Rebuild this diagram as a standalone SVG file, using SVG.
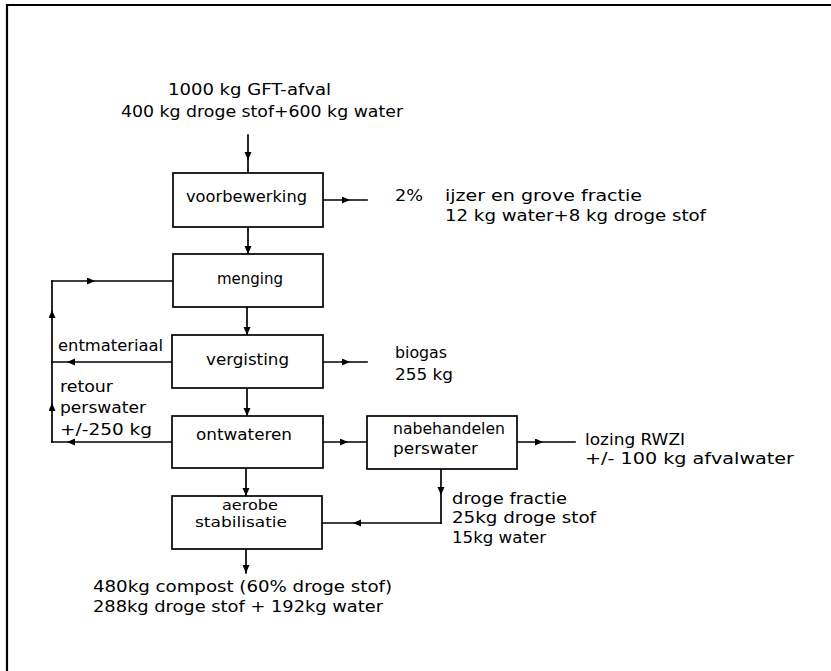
<svg xmlns="http://www.w3.org/2000/svg" width="831" height="671" viewBox="0 0 831 671">
<style>
text{font-family:"DejaVu Sans Condensed","DejaVu Sans",sans-serif;font-size:16px;fill:#000}
.sm{font-size:14.5px}
.box{fill:#fff;stroke:#000;stroke-width:1.7}
.ln{fill:none;stroke:#000;stroke-width:1.7;stroke-linecap:square}
.frame{fill:none;stroke:#000;stroke-width:2.2}
</style>
<defs>
<marker id="ah" markerUnits="userSpaceOnUse" markerWidth="10" markerHeight="8" refX="8" refY="3.5" orient="auto" viewBox="0 0 10 8">
<path d="M0,0 L8,3.5 L0,7 z" fill="#000"/>
</marker>
</defs>
<path class="frame" d="M6,5 H831 M7,4 V671"/>
<g id="connectors">
<path class="ln" d="M248,135 L248,160 L248,173" marker-mid="url(#ah)"/>
<path class="ln" d="M323,200 L350,200 L367,200" marker-mid="url(#ah)"/>
<path class="ln" d="M248,227 L248,254" marker-end="url(#ah)"/>
<path class="ln" d="M247,307 L247,335" marker-end="url(#ah)"/>
<path class="ln" d="M247,388 L247,416" marker-end="url(#ah)"/>
<path class="ln" d="M246,468 L246,496" marker-end="url(#ah)"/>
<path class="ln" d="M246,549 L246,573" marker-end="url(#ah)"/>
<path class="ln" d="M172,442 L67,442 L52,442" marker-mid="url(#ah)"/>
<path class="ln" d="M52,442 L52,403 L52,310 L52,281" marker-mid="url(#ah)"/>
<path class="ln" d="M52,281 L95,281 L172,281" marker-mid="url(#ah)"/>
<path class="ln" d="M172,362 L67,362 L52,362" marker-mid="url(#ah)"/>
<path class="ln" d="M323,362 L350,362 L367,362" marker-mid="url(#ah)"/>
<path class="ln" d="M323,442 L348,442 L367,442" marker-mid="url(#ah)"/>
<path class="ln" d="M517,442 L543,442 L575,442" marker-mid="url(#ah)"/>
<path class="ln" d="M441,469 L441,495 L441,523" marker-mid="url(#ah)"/>
<path class="ln" d="M441,523 L353,523 L322,523" marker-mid="url(#ah)"/>
</g>
<g id="input">
<text x="168" y="95" textLength="163" lengthAdjust="spacingAndGlyphs">1000 kg GFT-afval</text>
<text x="121" y="117" textLength="282" lengthAdjust="spacingAndGlyphs">400 kg droge stof+600 kg water</text>
</g>
<g id="voorbewerking">
<rect class="box" x="173" y="173" width="150" height="54"/>
<text x="186" y="202" textLength="121" lengthAdjust="spacingAndGlyphs">voorbewerking</text>
</g>
<g id="out-ijzer">
<text x="395" y="201" textLength="28" lengthAdjust="spacingAndGlyphs">2%</text>
<text x="445" y="201" textLength="197" lengthAdjust="spacingAndGlyphs">ijzer en grove fractie</text>
<text x="445" y="221" textLength="261" lengthAdjust="spacingAndGlyphs">12 kg water+8 kg droge stof</text>
</g>
<g id="menging">
<rect class="box" x="173" y="254" width="150" height="53"/>
<text x="217" y="284" textLength="66" lengthAdjust="spacingAndGlyphs">menging</text>
</g>
<g id="vergisting">
<rect class="box" x="172" y="335" width="151" height="53"/>
<text x="206" y="365" textLength="83" lengthAdjust="spacingAndGlyphs">vergisting</text>
</g>
<g id="labels-left">
<text x="58" y="351" textLength="105" lengthAdjust="spacingAndGlyphs">entmateriaal</text>
<text x="60" y="392" textLength="53" lengthAdjust="spacingAndGlyphs">retour</text>
<text x="60" y="413" textLength="86" lengthAdjust="spacingAndGlyphs">perswater</text>
<text x="60" y="435" textLength="92" lengthAdjust="spacingAndGlyphs">+/-250 kg</text>
</g>
<g id="out-biogas">
<text x="395" y="358" textLength="52" lengthAdjust="spacingAndGlyphs">biogas</text>
<text x="395" y="380" textLength="58" lengthAdjust="spacingAndGlyphs">255 kg</text>
</g>
<g id="ontwateren">
<rect class="box" x="172" y="416" width="151" height="52"/>
<text x="196" y="440" textLength="96" lengthAdjust="spacingAndGlyphs">ontwateren</text>
</g>
<g id="nabehandelen">
<rect class="box" x="367" y="416" width="150" height="53"/>
<text x="393" y="434" textLength="112" lengthAdjust="spacingAndGlyphs">nabehandelen</text>
<text x="393" y="454" textLength="85" lengthAdjust="spacingAndGlyphs">perswater</text>
</g>
<g id="out-lozing">
<text x="585" y="445" textLength="100" lengthAdjust="spacingAndGlyphs">lozing RWZI</text>
<text x="585" y="464" textLength="209" lengthAdjust="spacingAndGlyphs">+/- 100 kg afvalwater</text>
</g>
<g id="aerobe">
<rect class="box" x="172" y="496" width="150" height="53"/>
<text class="sm" x="222" y="510" textLength="56" lengthAdjust="spacingAndGlyphs">aerobe</text>
<text class="sm" x="195" y="527" textLength="92" lengthAdjust="spacingAndGlyphs">stabilisatie</text>
</g>
<g id="droge-fractie">
<text x="452" y="504" textLength="115" lengthAdjust="spacingAndGlyphs">droge fractie</text>
<text x="452" y="523" textLength="144" lengthAdjust="spacingAndGlyphs">25kg droge stof</text>
<text x="452" y="543" textLength="94" lengthAdjust="spacingAndGlyphs">15kg water</text>
</g>
<g id="output">
<text x="93" y="592" textLength="299" lengthAdjust="spacingAndGlyphs">480kg compost (60% droge stof)</text>
<text x="93" y="612" textLength="290" lengthAdjust="spacingAndGlyphs">288kg droge stof + 192kg water</text>
</g>
</svg>
